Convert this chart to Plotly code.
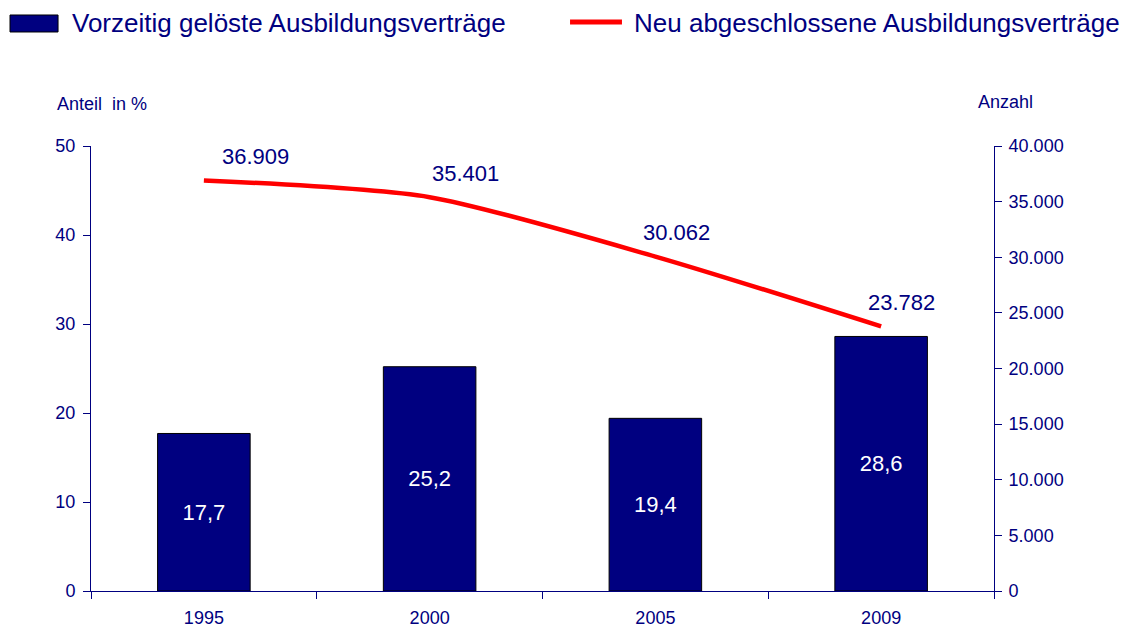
import plotly.graph_objects as go

years = ["1995", "2000", "2005", "2009"]
share_pct = [17.7, 25.2, 19.4, 28.6]
new_contracts = [36909, 35401, 30062, 23782]
label_shift_x = [52, 36, 21, 20]

BAR_NAME = "Vorzeitig gelöste Ausbildungsverträge"
LINE_NAME = "Neu abgeschlossene Ausbildungsverträge"

NAVY = "#000080"
RED = "#FF0000"
FONT = "Liberation Sans, Arial, sans-serif"

fig = go.Figure()
fig.add_trace(go.Bar(
    x=years, y=share_pct, name=BAR_NAME,
    marker=dict(color=NAVY, line=dict(color="black", width=1)),
    width=0.41,
    texttemplate="%{y:.1f}", textposition="inside", insidetextanchor="middle",
    textfont=dict(color="white", size=22, family=FONT),
    yaxis="y",
))
fig.add_trace(go.Scatter(
    x=years, y=new_contracts, name=LINE_NAME,
    mode="lines", line=dict(color=RED, width=4.5, shape="spline", smoothing=0.7),
    yaxis="y2",
))

for i, (v, dx) in enumerate(zip(new_contracts, label_shift_x)):
    fig.add_annotation(
        x=i, y=v, yref="y2", text=f"{v:,}".replace(",", "."),
        showarrow=False, xshift=dx, yshift=24,
        font=dict(size=22, color=NAVY, family=FONT),
    )

# axis titles
fig.add_annotation(x=-0.0399, y=1.0944, xref="paper", yref="paper", xanchor="left",
                   yanchor="middle", text="Anteil  in %", showarrow=False,
                   font=dict(size=18, color=NAVY, family=FONT))
fig.add_annotation(x=1.0122, y=1.0989, xref="paper", yref="paper", xanchor="center",
                   yanchor="middle", text="Anzahl", showarrow=False,
                   font=dict(size=18, color=NAVY, family=FONT))

# custom legend (swatches + labels)
fig.add_shape(type="rect", xref="paper", yref="paper",
              x0=-0.0897, x1=-0.0365, y0=1.2562, y1=1.2944,
              fillcolor=NAVY, line=dict(color="black", width=1))
fig.add_annotation(x=-0.0233, y=1.2764, xref="paper", yref="paper", xanchor="left",
                   yanchor="middle", text=BAR_NAME, showarrow=False,
                   font=dict(size=26, color=NAVY, family=FONT))
fig.add_shape(type="line", xref="paper", yref="paper",
              x0=0.5305, x1=0.588, y0=1.2787, y1=1.2787,
              line=dict(color=RED, width=5))
fig.add_annotation(x=0.599, y=1.2764, xref="paper", yref="paper", xanchor="left",
                   yanchor="middle", text=LINE_NAME, showarrow=False,
                   font=dict(size=26, color=NAVY, family=FONT))

axis_common = dict(showgrid=False, zeroline=False, showline=True, linecolor=NAVY,
                   linewidth=1, ticks="outside", tickcolor=NAVY, ticklen=7,
                   tickfont=dict(size=18, color=NAVY, family=FONT))

fig.update_layout(
    width=1126, height=624,
    margin=dict(l=83, r=140, t=138, b=41),
    paper_bgcolor="white", plot_bgcolor="white",
    separators=",.",
    font=dict(family=FONT, color=NAVY),
    showlegend=False,
    xaxis=dict(**axis_common, type="category", tickson="boundaries", range=[-0.5, 3.5],
               ticklabelstandoff=10, automargin=False),
    yaxis=dict(**axis_common, range=[0, 50], dtick=10, automargin=False,
               ticklabelstandoff=4),
    yaxis2=dict(**axis_common, range=[0, 40000], dtick=5000, tickformat=",d",
                overlaying="y", side="right", automargin=False, ticklabelstandoff=3),
)

fig.write_html("out.html")
